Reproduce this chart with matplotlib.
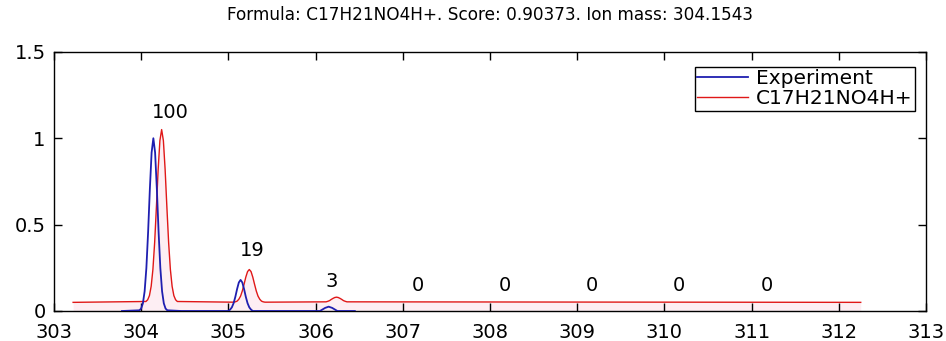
import matplotlib
matplotlib.use("Agg")
import matplotlib.pyplot as plt

plt.rcParams['font.family'] = ['DejaVu Sans']

exp_mz = [303.78, 303.98, 304.00, 304.02, 304.04, 304.06, 304.08, 304.10, 304.12,
          304.14, 304.16, 304.18, 304.20, 304.22, 304.24, 304.26, 304.28, 304.30,
          304.46, 304.81, 305.00, 305.02, 305.04, 305.06, 305.08, 305.10, 305.12,
          305.14, 305.16, 305.18, 305.20, 305.22, 305.24, 305.26, 305.28, 305.48,
          305.80, 306.05, 306.07, 306.11, 306.15, 306.19, 306.23, 306.25, 306.45]
exp_int = [0.0, 0.004, 0.014, 0.044, 0.114, 0.249, 0.458, 0.707, 0.917,
           1.0, 0.917, 0.707, 0.458, 0.249, 0.114, 0.044, 0.014, 0.004,
           0.0, 0.0, 0.0, 0.008, 0.021, 0.045, 0.082, 0.127, 0.165,
           0.18, 0.165, 0.127, 0.082, 0.045, 0.021, 0.008, 0.0, 0.0,
           0.0, 0.0, 0.006, 0.018, 0.025, 0.018, 0.006, 0.0, 0.0]

# theoretical isotope pattern for C17H21NO4H+ (drawn with a 0.05 offset)
theo_mz = [303.22, 304.055, 304.075, 304.095, 304.115, 304.135, 304.155, 304.175, 304.195,
           304.215, 304.235, 304.255, 304.275, 304.295, 304.315, 304.335, 304.355,
           304.375, 304.395, 304.415, 305.06, 305.08, 305.10, 305.12, 305.14, 305.16,
           305.18, 305.20, 305.22, 305.24, 305.26, 305.28, 305.30, 305.32, 305.34,
           305.36, 305.38, 305.40, 305.42, 306.12, 306.14, 306.16, 306.18, 306.20,
           306.22, 306.24, 306.26, 306.28, 306.30, 306.32, 306.34, 306.36, 312.25]
theo_int = [0.05, 0.055, 0.065, 0.089, 0.143, 0.241, 0.397, 0.602, 0.818,
            0.986, 1.05, 0.986, 0.818, 0.602, 0.397, 0.241, 0.143,
            0.089, 0.065, 0.055, 0.051, 0.053, 0.057, 0.068, 0.086, 0.116,
            0.155, 0.196, 0.228, 0.24, 0.228, 0.196, 0.155, 0.116, 0.086,
            0.068, 0.057, 0.053, 0.051, 0.053, 0.056, 0.060, 0.067, 0.073,
            0.078, 0.08, 0.078, 0.073, 0.067, 0.060, 0.056, 0.053, 0.05]

# relative abundance labels above each isotope
label_text = ["100", "19", "3", "0", "0", "0", "0", "0"]
label_mz = [304.34, 305.27, 306.19, 307.17, 308.17, 309.17, 310.17, 311.17]
label_y = [1.15, 0.35, 0.17, 0.15, 0.15, 0.15, 0.15, 0.15]

title = "Formula: C17H21NO4H+. Score: 0.90373. Ion mass: 304.1543"

fig = plt.figure(figsize=(9.46, 3.41), dpi=100)
ax = fig.add_axes([0.057, 0.088, 0.922, 0.760])

ax.fill_between(theo_mz, 0, theo_int, color='#fdeef3', lw=0, zorder=1)
ax.plot(exp_mz, exp_int, color='#1f1fb0', lw=1.3, label="Experiment", zorder=3)
ax.plot(theo_mz, theo_int, color='#e01818', lw=1.0, label="C17H21NO4H+", zorder=2)

for t, x, y in zip(label_text, label_mz, label_y):
    ax.text(x, y, t, ha='center', va='center', fontsize=14)

ax.set_xlim(303, 313)
ax.set_ylim(0, 1.5)
ax.set_xticks(range(303, 314))
ax.set_yticks([0, 0.5, 1, 1.5])
ax.set_yticklabels(["0", "0.5", "1", "1.5"])
ax.tick_params(direction='in', length=6, width=1, top=True, right=True,
               labelsize=14)
ax.tick_params(axis='x', pad=9)
ax.tick_params(axis='y', pad=6)
for s in ax.spines.values():
    s.set_linewidth(1)
    s.set_color('black')

ax.set_title(title, fontsize=12.2, pad=23)

leg = ax.legend(loc='upper right', bbox_to_anchor=(0.987, 0.942), borderaxespad=0,
                fancybox=False, edgecolor='black', fontsize=14.5, handlelength=2.5,
                handletextpad=0.4, labelspacing=0.05, borderpad=0.12, framealpha=1)
leg.get_frame().set_linewidth(1)

fig.savefig("out.png", dpi=100)
